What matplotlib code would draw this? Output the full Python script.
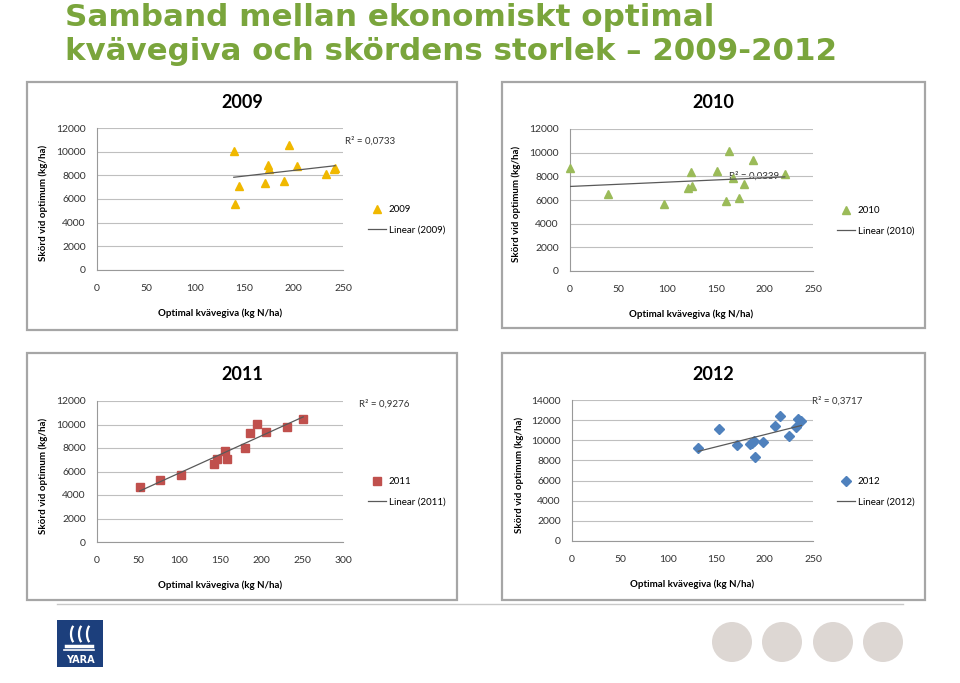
import numpy as np
import matplotlib
matplotlib.use('Agg')
import matplotlib.pyplot as plt
from matplotlib.patches import Rectangle, Ellipse, Arc

# ---- data ----
x2009 = [139, 140, 144, 171, 173.5, 175, 190, 195, 203, 233, 241, 242]
y2009 = [10080, 5560, 7060, 7340, 8840, 8560, 7540, 10530, 8780, 8100, 8500, 8640]

x2010 = [0, 39, 97, 121, 124, 125, 151, 160, 164, 168, 174, 179, 188, 221]
y2010 = [8690, 6540, 5660, 6990, 8400, 7190, 8450, 5950, 10110, 7900, 6200, 7320, 9420, 8200]

x2011 = [52, 77, 102, 143, 146, 156, 158.5, 180, 186, 195, 206.5, 232, 251.5]
y2011 = [4650, 5280, 5670, 6640, 7030, 7750, 7090, 8000, 9300, 10040, 9330, 9760, 10440]

x2012 = [131, 153, 171, 185, 187, 189, 190, 198, 211, 215.5, 225, 232, 234.5, 238]
y2012 = [9230, 11120, 9560, 9600, 9730, 9900, 8300, 9860, 11420, 12410, 10460, 11290, 12110, 11880]

r2_labels = ['R² = 0,0733', 'R² = 0,0339', 'R² = 0,9276', 'R² = 0,3717']
years = ['2009', '2010', '2011', '2012']

W, H = 960, 683
fig = plt.figure(figsize=(W / 100, H / 100), dpi=100)

# overlay in pixel coordinates for frames, logo and decoration
bg = fig.add_axes([0, 0, 1, 1], zorder=0)
bg.set_xlim(0, W)
bg.set_ylim(H, 0)
bg.axis('off')

chart_font = 'Lato'
tick_col = '#333333'

# panel layout in pixels: frame box, plot box
panels = [
    dict(frame=(27, 82, 457, 330), plot=(97, 128, 343, 270), xmax=250, ymax=12000, ystep=2000,
         xs=x2009, ys=y2009, marker='^', color='#f0b800', ms=6,
         r2pos=(345, 141), leg=(368, 205)),
    dict(frame=(502, 82, 925, 328), plot=(570, 129, 813, 271), xmax=250, ymax=12000, ystep=2000,
         xs=x2010, ys=y2010, marker='^', color='#9bbb59', ms=6,
         r2pos=(729, 176), leg=(837, 206)),
    dict(frame=(27, 353, 457, 600), plot=(97, 401, 343, 542), xmax=300, ymax=12000, ystep=2000,
         xs=x2011, ys=y2011, marker='s', color='#c0504d', ms=5.8,
         r2pos=(359, 404), leg=(368, 477)),
    dict(frame=(502, 353, 925, 600), plot=(572, 400, 813, 541), xmax=250, ymax=14000, ystep=2000,
         xs=x2012, ys=y2012, marker='D', color='#4f81bd', ms=4.6,
         r2pos=(812, 401), leg=(837, 477)),
]

for i, p in enumerate(panels):
    fx0, fy0, fx1, fy1 = p['frame']
    bg.add_patch(Rectangle((fx0, fy0), fx1 - fx0, fy1 - fy0, facecolor='white',
                           edgecolor='#a6a6a6', lw=1.6))
    bg.text((fx0 + fx1) / 2, fy0 + 21, years[i], ha='center', va='center',
            fontsize=13, fontweight='bold', family=chart_font, color='black')

    x0, y0, x1, y1 = p['plot']
    ax = fig.add_axes([x0 / W, 1 - y1 / H, (x1 - x0) / W, (y1 - y0) / H], zorder=2)
    ax.patch.set_alpha(0)
    xs = np.array(p['xs'], dtype=float)
    ys = np.array(p['ys'], dtype=float)
    ax.plot(xs, ys, linestyle='none', marker=p['marker'], color=p['color'],
            ms=p['ms'], mec=p['color'], label=years[i], zorder=3, clip_on=False)
    # Excel style linear trend line over the data range
    k, m = np.polyfit(xs, ys, 1)
    xt = np.array([xs.min(), xs.max()])
    ax.plot(xt, k * xt + m, color='#595959', lw=0.9, label=f'Linear ({years[i]})', zorder=4)

    ax.set_xlim(0, p['xmax'])
    ax.set_ylim(0, p['ymax'])
    ax.set_xticks(np.arange(0, p['xmax'] + 1, 50))
    ax.set_yticks(np.arange(0, p['ymax'] + 1, p['ystep']))
    ax.grid(axis='y', color='#bfbfbf', lw=0.8)
    ax.set_axisbelow(True)
    for s in ['top', 'right']:
        ax.spines[s].set_visible(False)
    for s in ['left', 'bottom']:
        ax.spines[s].set_color('#999999')
        ax.spines[s].set_linewidth(0.8)
    ax.tick_params(axis='both', length=0, labelsize=7.5, labelcolor=tick_col)
    ax.tick_params(axis='x', pad=10)
    ax.tick_params(axis='y', pad=8)
    for lab in ax.get_xticklabels() + ax.get_yticklabels():
        lab.set_family(chart_font)

    ax.set_xlabel('Optimal kvävegiva (kg N/ha)', fontsize=7, fontweight='bold',
                  family=chart_font, color='black')
    ax.set_ylabel('Skörd vid optimum (kg/ha)', fontsize=7, fontweight='bold',
                  family=chart_font, color='black')
    ax.xaxis.set_label_coords(0.5, -0.27)
    ax.yaxis.set_label_coords(-0.2, 0.47)

    rx, ry = p['r2pos']
    bg.text(rx, ry, r2_labels[i], ha='left', va='center', fontsize=7,
            family=chart_font, color=tick_col, zorder=5)

    lx, ly = p['leg']
    ax.legend(loc='upper left', bbox_to_anchor=(lx / W, 1 - ly / H),
              bbox_transform=fig.transFigure, frameon=False,
              prop={'family': chart_font, 'size': 7}, borderpad=0, borderaxespad=0,
              handlelength=1.8, handletextpad=0.35, labelspacing=1.2, numpoints=1)

# bottom separator
bg.plot([57, 903], [604, 604], color='#c8c8c8', lw=1)

# title, fitted to the width of the original lines
title_col = '#7aa53c'
t1 = fig.text(65 / W, 1 - 26 / H, 'Samband mellan ekonomiskt optimal', ha='left',
              va='baseline', fontsize=24, fontweight='bold', family='DejaVu Sans', color=title_col)
t2 = fig.text(65 / W, 1 - 60 / H, 'kvävegiva och skördens storlek – 2009-2012', ha='left',
              va='baseline', fontsize=24, fontweight='bold', family='DejaVu Sans', color=title_col)
fig.canvas.draw()
r = fig.canvas.get_renderer()
for t, target in [(t1, 647), (t2, 770)]:
    w = t.get_window_extent(r).width
    t.set_fontsize(24 * target / w)

# YARA logo
bg.add_patch(Rectangle((57, 620), 46, 47, facecolor='#1c3f7c', edgecolor='none', zorder=3))
for cx in [72, 80, 88]:
    bg.add_patch(Arc((cx + 6, 634), 14, 22, theta1=120, theta2=240, color='white', lw=1.6, zorder=4))
bg.plot([66, 92], [646, 646], color='white', lw=2.5, zorder=4)
bg.plot([64, 94], [650, 650], color='white', lw=1.2, zorder=4)
bg.text(80, 660, 'YARA', ha='center', va='center', fontsize=7, fontweight='bold',
        family='DejaVu Sans', color='white', zorder=5)

# decorative circles
for cx in [732, 782, 833, 883]:
    bg.add_patch(Ellipse((cx, 642), 40, 40, facecolor='#ddd7d3', edgecolor='none'))

fig.savefig('out.png', dpi=100)
